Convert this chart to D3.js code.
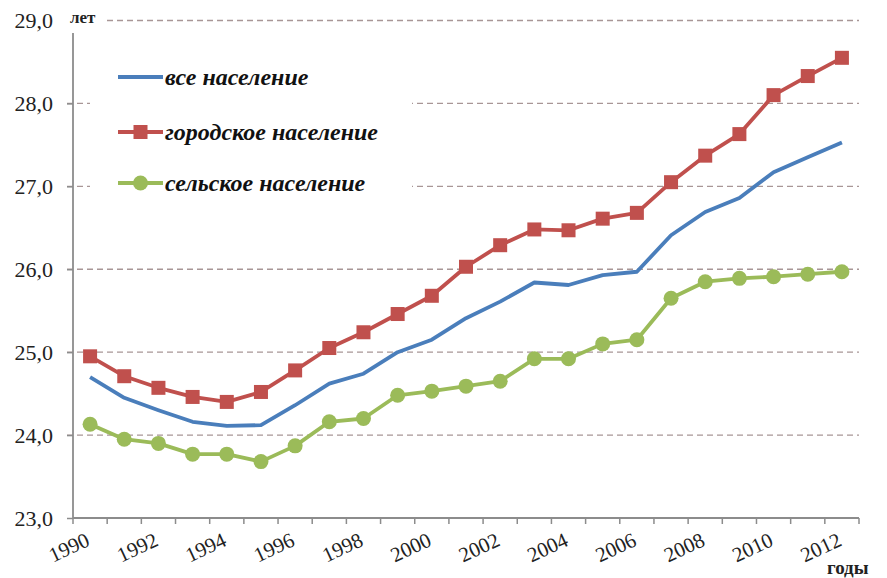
<!DOCTYPE html>
<html>
<head>
  <meta charset="utf-8">
  <title>Возраст матери</title>
  <script src="https://d3js.org/d3.v7.min.js"></script>
  <style>
    body { margin: 0; background: #fff; }
    text { font-family: "Liberation Serif", "Times New Roman", serif; }
  </style>
</head>
<body>
<svg id="chart"></svg>
<script>
  var width = 887;
  var height = 578;

  // data
  var years = d3.range(1990, 2013);
  var allPop = [24.70, 24.45, 24.30, 24.16, 24.11, 24.12, 24.36, 24.62, 24.74, 25.00, 25.15,
                25.41, 25.61, 25.84, 25.81, 25.93, 25.97, 26.41, 26.69, 26.86, 27.17, 27.35, 27.53];
  var urbanPop = [24.95, 24.71, 24.57, 24.46, 24.40, 24.52, 24.78, 25.05, 25.24, 25.46, 25.68,
                  26.03, 26.29, 26.48, 26.47, 26.61, 26.68, 27.05, 27.37, 27.63, 28.10, 28.33, 28.55];
  var ruralPop = [24.13, 23.95, 23.90, 23.77, 23.77, 23.68, 23.87, 24.16, 24.20, 24.48, 24.53,
                  24.59, 24.65, 24.92, 24.92, 25.10, 25.15, 25.65, 25.85, 25.89, 25.91, 25.94, 25.97];
  var yTicks = [23, 24, 25, 26, 27, 28, 29];
  var seriesNames = ["все население", "городское население", "сельское население"];

  var series = [
    { name: seriesNames[0], values: allPop, color: "#4a7ebb", marker: "none" },
    { name: seriesNames[1], values: urbanPop, color: "#c0504d", marker: "square" },
    { name: seriesNames[2], values: ruralPop, color: "#9bbb59", marker: "circle" }
  ];

  // plot box (window.top is taken, so own names)
  var plotLeft = 73, plotRight = 859, plotTop = 20.5, plotBottom = 518;

  var svg = d3.select("#chart")
    .attr("width", width)
    .attr("height", height);

  var x = d3.scaleBand().domain(years).range([plotLeft, plotRight]).padding(0);
  var y = d3.scaleLinear().domain([23, 29]).range([plotBottom, plotTop]);
  var cx = d => x(d) + x.bandwidth() / 2;

  // gridlines
  svg.append("g").selectAll("line")
    .data(yTicks.filter(d => d > 23))
    .enter().append("line")
    .attr("x1", plotLeft - 6)
    .attr("x2", plotRight)
    .attr("y1", d => y(d))
    .attr("y2", d => y(d))
    .attr("stroke", "#a89696")
    .attr("stroke-width", 1.3)
    .attr("stroke-dasharray", "6,4");

  // y axis
  var yAxis = svg.append("g")
    .attr("transform", "translate(" + plotLeft + ",0)")
    .call(d3.axisLeft(y).tickValues(yTicks).tickSize(6).tickPadding(14)
      .tickFormat(d => d3.format(".1f")(d).replace(".", ",")));
  yAxis.select(".domain").remove();
  yAxis.selectAll(".tick line").attr("stroke", "#8c8c8c").attr("stroke-width", 1.5);
  yAxis.selectAll("text")
    .attr("font-size", 22)
    .attr("fill", "#222");

  svg.append("line")
    .attr("x1", plotLeft).attr("x2", plotLeft)
    .attr("y1", 33).attr("y2", plotBottom)
    .attr("stroke", "#8c8c8c").attr("stroke-width", 1.8);

  // x axis
  svg.append("line")
    .attr("x1", plotLeft).attr("x2", plotRight)
    .attr("y1", plotBottom).attr("y2", plotBottom)
    .attr("stroke", "#8c8c8c").attr("stroke-width", 1.8);

  var bounds = years.map(d => x(d)).concat([x(years[years.length - 1]) + x.bandwidth()]);
  svg.append("g").selectAll("line")
    .data(bounds)
    .enter().append("line")
    .attr("x1", d => d).attr("x2", d => d)
    .attr("y1", plotBottom).attr("y2", plotBottom + 6)
    .attr("stroke", "#8c8c8c").attr("stroke-width", 1.5);

  svg.append("g").selectAll("text")
    .data(years.filter(d => d % 2 == 0))
    .enter().append("text")
    .attr("transform", d => "translate(" + (cx(d) + 1) + ",545) rotate(-25)")
    .attr("text-anchor", "end")
    .attr("font-size", 21)
    .attr("fill", "#222")
    .text(d => d);

  // unit labels
  svg.append("rect").attr("x", 64).attr("y", 4).attr("width", 42).attr("height", 26).attr("fill", "#fff");
  svg.append("text")
    .attr("x", 70).attr("y", 23)
    .attr("font-size", 17).attr("font-weight", "bold")
    .attr("fill", "#222")
    .text("лет");
  svg.append("text")
    .attr("x", 827).attr("y", 574)
    .attr("font-size", 19).attr("font-weight", "bold")
    .attr("fill", "#222")
    .text("годы");

  // lines and markers
  var line = d3.line()
    .x((d, i) => cx(years[i]))
    .y(d => y(d));

  series.forEach(function(s) {
    svg.append("path")
      .datum(s.values)
      .attr("d", line)
      .attr("fill", "none")
      .attr("stroke", s.color)
      .attr("stroke-width", 3.8)
      .attr("stroke-linejoin", "round");

    if (s.marker == "square") {
      svg.append("g").selectAll("rect")
        .data(s.values)
        .enter().append("rect")
        .attr("x", (d, i) => cx(years[i]) - 7)
        .attr("y", d => y(d) - 7)
        .attr("width", 14).attr("height", 14)
        .attr("fill", s.color);
    } else if (s.marker == "circle") {
      svg.append("g").selectAll("circle")
        .data(s.values)
        .enter().append("circle")
        .attr("cx", (d, i) => cx(years[i]))
        .attr("cy", d => y(d))
        .attr("r", 7.5)
        .attr("fill", s.color);
    }
  });

  // legend
  var legend = svg.append("g");
  legend.append("rect")
    .attr("x", 90).attr("y", 45).attr("width", 322).attr("height", 165)
    .attr("fill", "#fff");

  var legendY = [77, 132, 183];
  series.forEach(function(s, i) {
    var ly = legendY[i];
    legend.append("line")
      .attr("x1", 118).attr("x2", 163)
      .attr("y1", ly).attr("y2", ly)
      .attr("stroke", s.color).attr("stroke-width", 3.8);
    if (s.marker == "square") {
      legend.append("rect")
        .attr("x", 133.5).attr("y", ly - 7).attr("width", 14).attr("height", 14)
        .attr("fill", s.color);
    } else if (s.marker == "circle") {
      legend.append("circle")
        .attr("cx", 140.5).attr("cy", ly).attr("r", 7.5)
        .attr("fill", s.color);
    }
    legend.append("text")
      .attr("x", 165).attr("y", ly + 8)
      .attr("font-size", 24)
      .attr("font-weight", "bold")
      .attr("font-style", "italic")
      .attr("fill", "#111")
      .text(s.name);
  });
</script>
</body>
</html>
